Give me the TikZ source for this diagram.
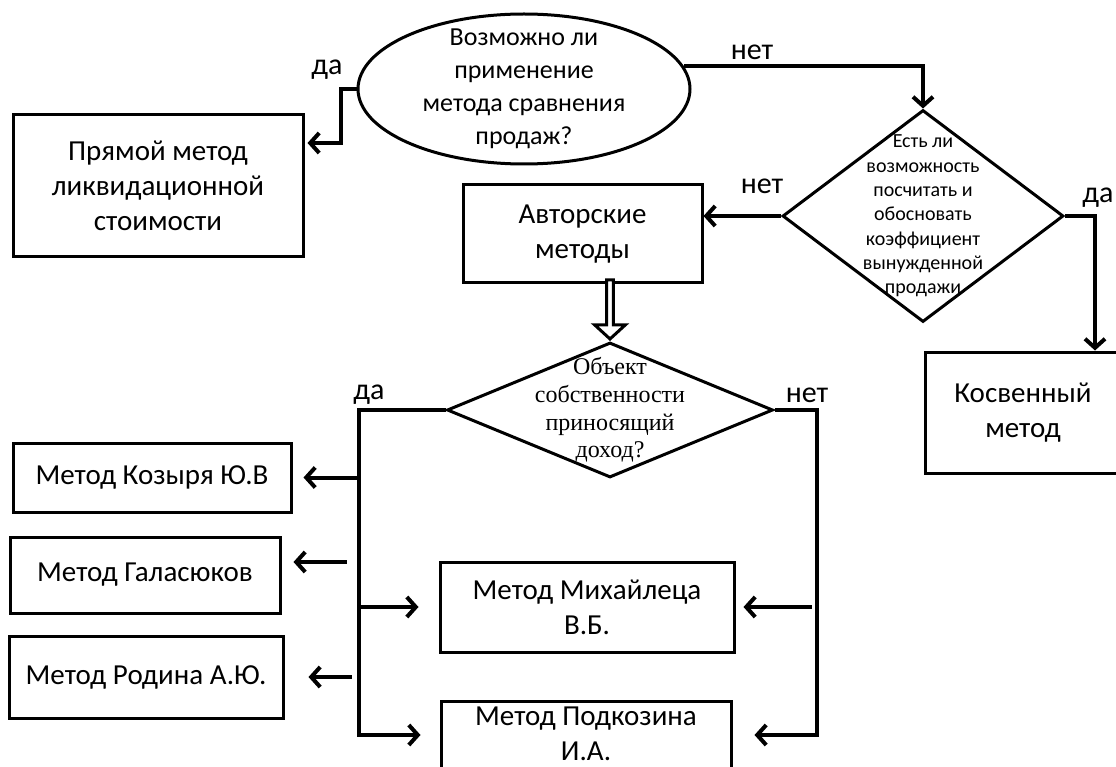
\documentclass[tikz,border=0pt]{standalone}
\usepackage{fontspec}
\setmainfont{Carlito}
\newfontfamily\tnr{Liberation Serif}
\usetikzlibrary{shapes.geometric, shapes.arrows, arrows.meta, calc}

\begin{document}
\begin{tikzpicture}[x=1pt, y=-1pt,
    box/.style={rectangle, draw, line width=3pt, inner sep=0pt, align=center, font=\fontsize{29}{35}\selectfont},
    ask/.style={diamond, draw, line width=3pt, inner sep=-40pt, align=center},
    lbl/.style={inner sep=0pt, font=\fontsize{30}{34}\selectfont},
    arr/.style={line width=4pt, -{Straight Barb[length=9pt, width=20pt]}}]

    \useasboundingbox (0,0) rectangle (1116,767);
    \clip (0,0) rectangle (1116,767);

    % First question
    \node (ell) [ellipse, draw, line width=3pt, minimum width=332pt, minimum height=150pt, inner xsep=0pt, inner ysep=-20pt, align=center, font=\fontsize{26}{33}\selectfont] at (524,89) {Возможно ли\\применение\\метода сравнения\\продаж?};

    % Direct method
    \node (prjam) [box, minimum width=290pt, minimum height=142pt] at (158,186) {Прямой метод\\ликвидационной\\стоимости};
    \draw[arr, shorten >=3pt] (ell.west) -- ++(-16,0) |- ([yshift=43pt]prjam.east);
    \node (da1) [lbl] at (327,70) {да};

    % Second question
    \node (dia1) [ask, minimum width=281pt, minimum height=212pt, font=\fontsize{20}{24.3}\selectfont] at (923,216) {Есть ли\\возможность\\посчитать и\\обосновать\\коэффициент\\вынужденной\\продажи};
    \draw[arr] (ell.8) -| (dia1.north);
    \node (net1) [lbl] at (752,52) {нет};

    % Author methods and indirect method
    \node (avt) [box, minimum width=239pt, minimum height=98pt] at (582.5,234) {Авторские\\методы};
    \draw[arr] (dia1.west) -- (dia1.west -| avt.east);
    \node (net2) [lbl] at (762,186) {нет};

    \node (kosv) [box, minimum width=196pt, minimum height=121pt] at (1023,412.5) {Косвенный\\метод};
    \draw[arr] (dia1.east) -| ([xshift=72pt]kosv.north);
    \node (da2) [lbl] at (1098,198) {да};

    % Third question
    \node (dia2) [ask, minimum width=326pt, minimum height=135pt, font=\tnr\fontsize{24}{27.7}\selectfont] at (610,410) {Объект\\собственности\\приносящий\\доход?};
    \node (hollow) [single arrow, draw, line width=3pt, fill=white, rotate=-90, inner sep=0pt, minimum width=31pt, minimum height=59pt, single arrow head extend=5.5pt, single arrow tip angle=95, anchor=tip] at (dia2.north) {};

    % Methods
    \node (kozyr) [box, minimum width=278pt, minimum height=69pt] at (152,477.5) {Метод Козыря Ю.В};
    \node (galas) [box, minimum width=270pt, minimum height=76pt] at (145,575) {Метод Галасюков};
    \node (rodin) [box, minimum width=274pt, minimum height=82pt] at (146,677) {Метод Родина А.Ю.};
    \node (mikh) [box, minimum width=294pt, minimum height=90pt] at (587,607) {Метод Михайлеца\\В.Б.};
    \node (podk) [box, minimum width=290pt, minimum height=80pt, text depth=14pt] at (586,741) {Метод Подкозина\\И.А.};

    % yes branch
    \coordinate (yes) at ([xshift=-87pt]dia2.west);
    \draw[arr, shorten >=19pt] (dia2.west) -- (yes) |- ([yshift=6pt]podk.west);
    \draw[arr, shorten >=11pt] (yes |- kozyr.east) -- (kozyr.east);
    \draw[arr, shorten >=12pt] ($(yes |- galas.east)+(-12,-13)$) -- ($(galas.east)+(0,-13)$);
    \draw[arr, shorten >=24pt] ($(yes |- rodin.east)+(-7,0)$) -- (rodin.east);
    \draw[arr, shorten >=20pt] (yes |- mikh.west) -- (mikh.west);
    \node (da3) [lbl] at (369,395) {да};

    % no branch
    \coordinate (no) at ([xshift=42pt]dia2.east);
    \draw[arr, shorten >=22pt] (dia2.east) -- (no) |- ([yshift=6pt]podk.east);
    \draw[arr, shorten >=8pt] ($(no |- mikh.east)+(-5,0)$) -- (mikh.east);
    \node (net3) [lbl] at (807,395) {нет};

\end{tikzpicture}
\end{document}
